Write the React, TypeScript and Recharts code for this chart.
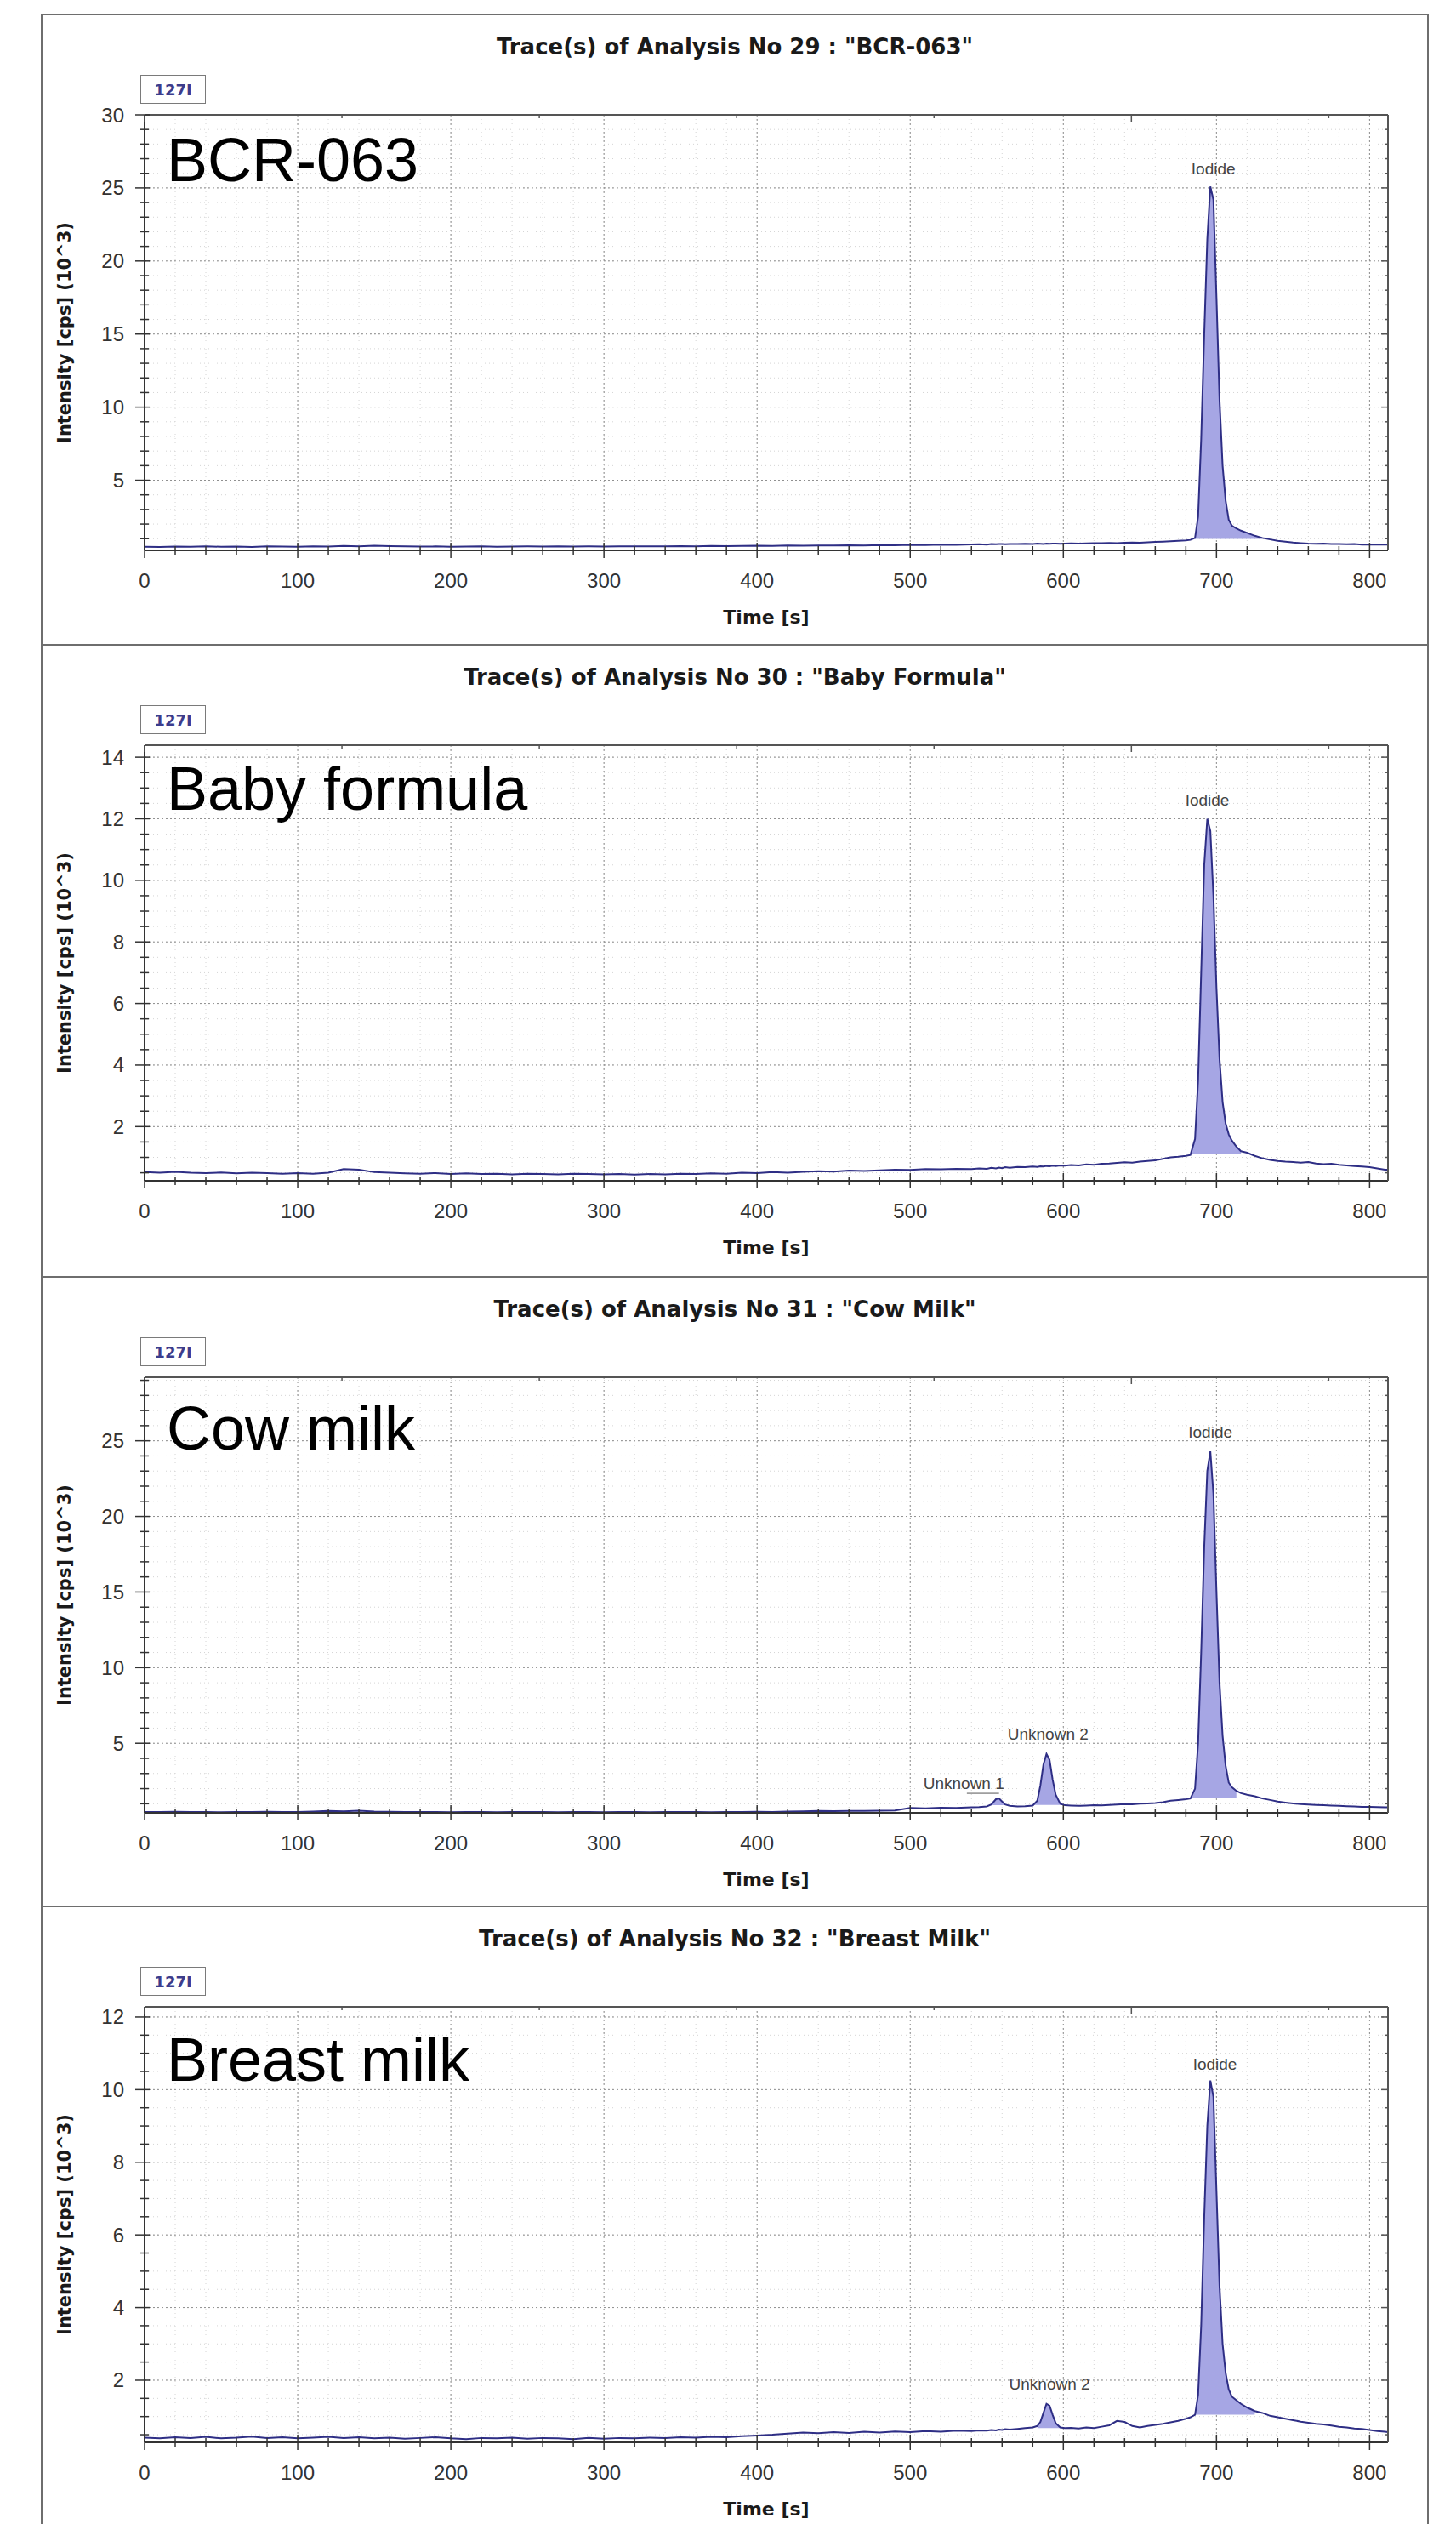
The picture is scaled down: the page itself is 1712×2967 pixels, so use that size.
import React from 'react';
import {
  ComposedChart, Line, Area, XAxis, YAxis, CartesianGrid, ReferenceDot, ReferenceLine,
} from 'recharts';

// sampling times [s], shared by the four traces (denser around the peaks)
const TIME_S = [
  0, 10, 20, 30, 40, 50, 60, 70, 80, 90,
  100, 110, 120, 130, 140, 150, 160, 170, 180, 190,
  200, 210, 220, 230, 240, 250, 260, 270, 280, 290,
  300, 310, 320, 330, 340, 350, 360, 370, 380, 390,
  400, 410, 420, 430, 440, 450, 460, 470, 480, 490,
  500, 510, 520, 530, 540,
  545, 550, 553, 556, 558, 560, 562, 565, 570, 575, 580, 583, 585, 587, 589, 591, 593, 595, 598, 601, 605, 610,
  615, 620, 625, 630, 635, 640, 645, 650, 655, 660, 665, 670, 675,
  680, 683, 686, 688, 690, 692, 694, 696, 698, 700, 702, 704, 706, 708, 710, 713, 716, 720, 725, 730,
  735, 740, 745, 750, 755, 760, 765, 770, 775, 780, 785, 790, 795, 800, 805, 810, 812,
];

// intensity [cps] (10^3)
const BCR_063 = [
  0.45, 0.44, 0.46, 0.45, 0.47, 0.45, 0.46, 0.44, 0.47, 0.46,
  0.45, 0.47, 0.46, 0.50, 0.48, 0.52, 0.49, 0.47, 0.46, 0.47,
  0.45, 0.46, 0.47, 0.45, 0.46, 0.47, 0.46, 0.48, 0.46, 0.47,
  0.46, 0.48, 0.47, 0.48, 0.47, 0.49, 0.48, 0.50, 0.49, 0.50,
  0.52, 0.50, 0.53, 0.52, 0.54, 0.53, 0.55, 0.54, 0.56, 0.55,
  0.58, 0.57, 0.60, 0.58, 0.61,
  0.62, 0.60, 0.63, 0.62, 0.64, 0.63, 0.62, 0.64, 0.63, 0.65, 0.64, 0.66, 0.65, 0.64, 0.66, 0.65, 0.67, 0.66, 0.65, 0.67, 0.68, 0.67,
  0.68, 0.70, 0.69, 0.71, 0.70, 0.72, 0.74, 0.73, 0.76, 0.78, 0.80, 0.83, 0.86,
  0.88, 0.92, 1.05, 2.5, 7.8, 15.0, 21.5, 25.1, 24.2, 17.5, 10.5, 6.0, 3.6, 2.3, 1.9, 1.7, 1.55, 1.4, 1.2, 1.05,
  0.95, 0.85, 0.80, 0.74, 0.70, 0.66, 0.65, 0.66, 0.63, 0.64, 0.62, 0.63, 0.60, 0.61, 0.60, 0.59, 0.60,
];

const BABY_FORMULA = [
  0.52, 0.50, 0.53, 0.50, 0.49, 0.51, 0.48, 0.50, 0.49, 0.47,
  0.49, 0.47, 0.50, 0.62, 0.60, 0.52, 0.50, 0.48, 0.47, 0.49,
  0.46, 0.48, 0.46, 0.47, 0.45, 0.47, 0.46, 0.45, 0.47, 0.46,
  0.45, 0.46, 0.44, 0.46, 0.45, 0.47, 0.46, 0.48, 0.47, 0.50,
  0.49, 0.52, 0.50, 0.53, 0.55, 0.54, 0.57, 0.56, 0.58, 0.60,
  0.59, 0.62, 0.61, 0.63, 0.62,
  0.64, 0.63, 0.66, 0.64, 0.67, 0.65, 0.68, 0.66, 0.69, 0.68, 0.70, 0.69, 0.71, 0.70, 0.72, 0.71, 0.73, 0.72, 0.74, 0.73, 0.75, 0.74,
  0.77, 0.76, 0.79, 0.80, 0.82, 0.84, 0.83, 0.86, 0.88, 0.90, 0.95, 1.00, 1.02,
  1.05, 1.08, 1.6, 3.5, 7.0, 10.5, 12.0, 11.6, 9.5, 6.5, 4.2, 2.8, 2.1, 1.75, 1.55, 1.35, 1.2, 1.15, 1.05, 0.97,
  0.92, 0.88, 0.86, 0.85, 0.83, 0.85, 0.80, 0.78, 0.79, 0.76, 0.74, 0.72, 0.70, 0.68, 0.64, 0.60, 0.60,
];

const COW_MILK = [
  0.46, 0.45, 0.47, 0.45, 0.46, 0.44, 0.46, 0.45, 0.47, 0.45,
  0.46, 0.48, 0.52, 0.50, 0.54, 0.49, 0.47, 0.46, 0.45, 0.46,
  0.44, 0.45, 0.46, 0.44, 0.45, 0.46, 0.45, 0.44, 0.46, 0.45,
  0.44, 0.45, 0.46, 0.44, 0.45, 0.46, 0.45, 0.44, 0.46, 0.45,
  0.47, 0.46, 0.48, 0.50, 0.52, 0.51, 0.53, 0.52, 0.54, 0.55,
  0.72, 0.70, 0.74, 0.72, 0.76,
  0.78, 0.82, 0.95, 1.3, 1.35, 1.15, 0.95, 0.86, 0.82, 0.84, 0.88, 1.2, 2.2, 3.6, 4.3, 3.9, 2.6, 1.6, 1.0, 0.9, 0.88, 0.86,
  0.88, 0.90, 0.89, 0.92, 0.95, 0.98, 0.96, 1.00, 1.02, 1.05, 1.10, 1.20, 1.25,
  1.30, 1.35, 2.0, 5.0, 11.0, 18.0, 23.0, 24.3, 21.5, 15.0, 9.0, 5.5, 3.5, 2.4, 2.1, 1.85, 1.7, 1.6, 1.5, 1.35,
  1.25, 1.15, 1.08, 1.02, 0.98, 0.95, 0.92, 0.90, 0.88, 0.86, 0.84, 0.82, 0.80, 0.79, 0.78, 0.76, 0.76,
];

const BREAST_MILK = [
  0.42, 0.40, 0.43, 0.41, 0.44, 0.40, 0.42, 0.45, 0.41, 0.43,
  0.40, 0.42, 0.44, 0.41, 0.43, 0.40, 0.42, 0.39, 0.41, 0.43,
  0.40, 0.38, 0.41, 0.40, 0.42, 0.39, 0.41, 0.40, 0.38, 0.41,
  0.39, 0.41, 0.40, 0.42, 0.41, 0.43, 0.42, 0.44, 0.43, 0.46,
  0.48, 0.50, 0.53, 0.56, 0.54, 0.57, 0.55, 0.58, 0.56, 0.59,
  0.57, 0.60, 0.58, 0.61, 0.60,
  0.62, 0.61, 0.63, 0.62, 0.64, 0.63, 0.65, 0.64, 0.66, 0.68, 0.70, 0.74, 0.85, 1.10, 1.35, 1.30, 1.05, 0.82, 0.70, 0.68, 0.69, 0.67,
  0.70, 0.68, 0.72, 0.76, 0.88, 0.85, 0.74, 0.70, 0.74, 0.77, 0.80, 0.84, 0.88,
  0.94, 0.98, 1.05, 1.6, 3.5, 6.5, 9.0, 10.25, 9.8, 7.2, 4.6, 3.0, 2.2, 1.75, 1.55, 1.45, 1.35, 1.25, 1.15, 1.10,
  1.02, 0.98, 0.94, 0.90, 0.86, 0.83, 0.80, 0.78, 0.75, 0.72, 0.70, 0.67, 0.66, 0.63, 0.60, 0.58, 0.57,
];

const TITLES = [
  'Trace(s) of Analysis No 29 : "BCR-063"',
  'Trace(s) of Analysis No 30 : "Baby Formula"',
  'Trace(s) of Analysis No 31 : "Cow Milk"',
  'Trace(s) of Analysis No 32 : "Breast Milk"',
];
const SAMPLE_NAMES = ['BCR-063', 'Baby formula', 'Cow milk', 'Breast milk'];
const TRACES = [BCR_063, BABY_FORMULA, COW_MILK, BREAST_MILK];

const X_MAJOR = [0, 100, 200, 300, 400, 500, 600, 700, 800];
const Y_MAJOR = [
  [5, 10, 15, 20, 25, 30],
  [2, 4, 6, 8, 10, 12, 14],
  [5, 10, 15, 20, 25],
  [2, 4, 6, 8, 10, 12],
];
const Y_MINOR_STEP = [1, 0.5, 1, 0.5];
const Y_DOMAIN = [[0.2, 30], [0.24, 14.39], [0.4, 29.2], [0.29, 12.28]];

// integrated peaks per trace: name, window [s], integration base, label anchor (time, label baseline)
const PEAK_NAMES = [['Iodide'], ['Iodide'], ['Unknown 1', 'Unknown 2', 'Iodide'], ['Unknown 2', 'Iodide']];
const PEAK_START = [[686], [683], [553, 580, 683], [583, 686]];
const PEAK_END = [[730], [716], [562, 598, 713], [598, 725]];
const PEAK_BASE = [[0.98], [1.1], [0.9, 0.92, 1.35], [0.68, 1.05]];
const LABEL_T = [[698], [694], [535, 590, 696], [591, 699]];
const LABEL_Y = [[25.95], [12.43], [1.97, 5.22, 25.2], [1.74, 10.54]];

const range = (from: number, to: number, step: number) => {
  const out: number[] = [];
  for (let i = 0; from + i * step <= to + 1e-9; i++) out.push(+(from + i * step).toFixed(3));
  return out;
};
const X_MINOR = range(0, 800, 20);

const PANEL_TOP = [16, 757, 1500, 2240];
const PANEL_HEIGHT = [743, 745, 742, 727];
const NAME_BASELINE = [195, 193, 202, 204];

const TICK_FONT = '"Liberation Sans", Arial, sans-serif';
const BOLD_FONT = '"DejaVu Sans", Verdana, sans-serif';
const AXIS = '#333';

const isMajor = (v: number, majors: number[]) => majors.some((m) => Math.abs(m - v) < 1e-6);

const BottomTick = (p: any) => {
  const major = isMajor(p.payload.value, X_MAJOR);
  const s = major ? 9 : 5;
  return (
    <g>
      <line x1={p.x} x2={p.x} y1={p.y - s} y2={p.y + s} stroke={AXIS} strokeWidth={1.5} />
      {major && (
        <text x={p.x} y={p.y + 35} textAnchor="middle" dominantBaseline="central"
          fontSize={24} fontFamily={TICK_FONT} fill="#333">{p.payload.value}</text>
      )}
    </g>
  );
};

const TopTick = (p: any) => {
  const s = isMajor(p.payload.value, X_MAJOR) ? 8 : 4;
  return <line x1={p.x} x2={p.x} y1={p.y} y2={p.y + s} stroke="#555" strokeWidth={1.5} />;
};

const leftTick = (majors: number[]) => (p: any) => {
  const major = isMajor(p.payload.value, majors);
  return (
    <g>
      <line x1={p.x - (major ? 11 : 5)} x2={p.x + (major ? 6 : 5)} y1={p.y} y2={p.y} stroke={AXIS} strokeWidth={1.5} />
      {major && (
        <text x={p.x - 24} y={p.y} textAnchor="end" dominantBaseline="central"
          fontSize={24} fontFamily={TICK_FONT} fill="#333">{p.payload.value}</text>
      )}
    </g>
  );
};

const rightTick = (majors: number[]) => (p: any) => {
  const s = isMajor(p.payload.value, majors) ? 8 : 4;
  return <line x1={p.x - s} x2={p.x} y1={p.y} y2={p.y} stroke="#555" strokeWidth={1.5} />;
};

function buildRows(i: number) {
  const values = TRACES[i];
  return TIME_S.map((t, k) => {
    const y = values[k];
    const j = PEAK_START[i].findIndex((s, n) => t >= s && t <= PEAK_END[i][n]);
    const base = j >= 0 ? PEAK_BASE[i][j] : 0;
    return { t, y, band: j >= 0 ? [base, Math.max(y, base)] : null };
  });
}

function Panel({ i }: { i: number }) {
  const rows = buildRows(i);
  const [y0, y1] = Y_DOMAIN[i];
  const yMinor = range(Y_MINOR_STEP[i], y1, Y_MINOR_STEP[i]);
  const LeftTick = leftTick(Y_MAJOR[i]);
  const RightTick = rightTick(Y_MAJOR[i]);
  const border = '2px solid #6e6e6e';
  return (
    <div style={{
      position: 'absolute', left: 48, top: PANEL_TOP[i], width: 1632, height: PANEL_HEIGHT[i],
      boxSizing: 'border-box', borderTop: border, borderLeft: border, borderRight: border,
      borderBottom: i < 3 ? border : 'none', background: '#fff', overflow: 'hidden',
    }}>
      <div style={{ position: 'absolute', left: 0, top: 0 }}>
        <ComposedChart width={1628} height={725} data={rows} margin={{ top: 116, right: 45, bottom: 6, left: 0 }}>
          <CartesianGrid xAxisId="b" yAxisId="l" verticalValues={X_MINOR} horizontalValues={yMinor}
            stroke="#d4d4d4" strokeDasharray="1 4" />
          <CartesianGrid xAxisId="b" yAxisId="l" verticalValues={X_MAJOR} horizontalValues={Y_MAJOR[i]}
            stroke="#8f8f8f" strokeDasharray="2 3" />
          <XAxis xAxisId="b" dataKey="t" type="number" domain={[0, 812]} allowDataOverflow
            ticks={X_MINOR} interval={0} tickSize={0} tickMargin={0} tickLine={false}
            axisLine={{ stroke: AXIS, strokeWidth: 2 }} tick={BottomTick} height={90}
            label={{ value: 'Time [s]', position: 'insideBottom', offset: 4, fill: '#1a1a1a',
              fontSize: 22, fontWeight: 700, fontFamily: BOLD_FONT }} />
          <XAxis xAxisId="t" orientation="top" type="number" domain={[0, 812]} allowDataOverflow
            ticks={X_MINOR} interval={0} tickSize={0} tickMargin={0} tickLine={false}
            axisLine={{ stroke: '#555', strokeWidth: 2 }} tick={TopTick} height={1} />
          <YAxis yAxisId="l" type="number" domain={[y0, y1]} allowDataOverflow
            ticks={yMinor} interval={0} tickSize={0} tickMargin={0} tickLine={false}
            axisLine={{ stroke: AXIS, strokeWidth: 2 }} tick={LeftTick} width={120} />
          <YAxis yAxisId="r" orientation="right" type="number" domain={[y0, y1]} allowDataOverflow
            ticks={yMinor} interval={0} tickSize={0} tickMargin={0} tickLine={false}
            axisLine={{ stroke: '#555', strokeWidth: 2 }} tick={RightTick} width={1} />
          <Area xAxisId="b" yAxisId="l" type="linear" dataKey="band" stroke="none" fill="#a6a6e4"
            fillOpacity={1} dot={false} activeDot={false} isAnimationActive={false} />
          <Line xAxisId="b" yAxisId="l" type="linear" dataKey="y" stroke="#2e2e85" strokeWidth={2}
            dot={false} activeDot={false} isAnimationActive={false} />
          {PEAK_NAMES[i].map((name, n) => (
            <ReferenceDot key={name} xAxisId="b" yAxisId="l" x={LABEL_T[i][n]} y={LABEL_Y[i][n]} r={0}
              fill="none" stroke="none"
              label={{ value: name, position: 'top', offset: 0, fill: '#444', fontSize: 19, fontFamily: TICK_FONT }} />
          ))}
          {i === 2 && (
            <ReferenceLine xAxisId="b" yAxisId="l" segment={[{ x: 537, y: 1.69 }, { x: 558, y: 1.69 }]}
              stroke="#555" strokeWidth={1} />
          )}
        </ComposedChart>
      </div>
      <div style={{
        position: 'absolute', left: 0, top: 22, width: 1628, textAlign: 'center', lineHeight: '30px',
        fontFamily: BOLD_FONT, fontWeight: 700, fontSize: 26, color: '#1a1a1a', whiteSpace: 'nowrap',
      }}>{TITLES[i]}</div>
      <div style={{
        position: 'absolute', left: 115, top: 70, width: 77, height: 34, boxSizing: 'border-box',
        border: '1.5px solid #7a7a7a', display: 'flex', alignItems: 'center', justifyContent: 'center',
        fontFamily: BOLD_FONT, fontWeight: 700, fontSize: 18, color: '#3c3c8c', background: '#fff',
      }}>127I</div>
      <div style={{
        position: 'absolute', left: 26, top: 117 + 256, transform: 'translate(-50%, -50%) rotate(-90deg)',
        whiteSpace: 'nowrap', fontFamily: BOLD_FONT, fontWeight: 700, fontSize: 21, color: '#1a1a1a',
      }}>Intensity [cps] (10^3)</div>
      <div style={{
        position: 'absolute', left: 146, top: NAME_BASELINE[i] - 61, fontFamily: TICK_FONT,
        fontSize: 72, lineHeight: 1, color: '#000', whiteSpace: 'nowrap',
      }}>{SAMPLE_NAMES[i]}</div>
    </div>
  );
}

export default function App() {
  return (
    <div style={{ position: 'relative', width: 1712, height: 2967, background: '#fff', overflow: 'hidden' }}>
      <style>{'html,body{margin:0;padding:0;overflow:hidden;background:#fff}'}</style>
      {[0, 1, 2, 3].map((i) => <Panel key={i} i={i} />)}
    </div>
  );
}
